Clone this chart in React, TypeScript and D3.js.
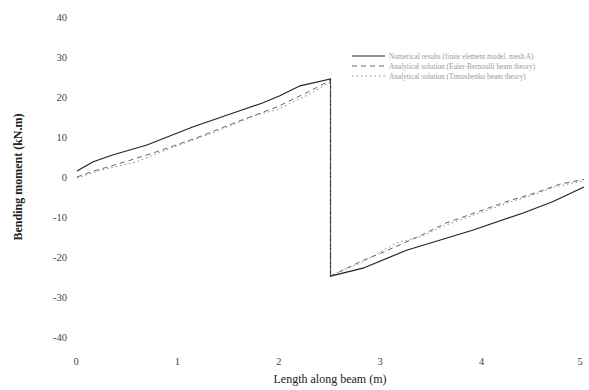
import React from "react";
import * as d3 from "d3";

// Bending moment along a simply supported beam with a mid-span couple
const seriesNames = [
  "Numerical results (finite element model, mesh A)",
  "Analytical solution (Euler-Bernoulli beam theory)",
  "Analytical solution (Timoshenko beam theory)",
];

const solidX = [0, 0.16, 0.35, 0.69, 1.14, 1.54, 1.83, 2.0, 2.2, 2.5, 2.5, 2.82, 3.25, 3.9, 4.4, 4.69, 5.0];
const solidY = [1.5, 3.8, 5.5, 8.0, 12.5, 16.0, 18.5, 20.3, 22.8, 24.5, -24.8, -22.8, -18.3, -13.3, -9.0, -6.2, -2.5];

const dashedX = [0, 0.13, 0.5, 0.75, 1.18, 1.6, 1.97, 2.3, 2.5, 2.5, 2.79, 3.03, 3.4, 3.64, 4.23, 4.53, 4.76, 5.0];
const dashedY = [0, 1.2, 4.0, 6.0, 9.8, 14.0, 17.5, 21.5, 24.2, -24.8, -21.2, -18.7, -14.5, -11.5, -6.2, -3.9, -1.8, -0.6];

const dottedX = [0, 0.23, 0.59, 0.92, 1.36, 1.77, 1.97, 2.3, 2.5, 2.5, 2.79, 3.15, 3.4, 3.64, 4.23, 4.53, 4.71, 5.0];
const dottedY = [-0.3, 1.7, 3.8, 7.2, 11.2, 15.5, 16.8, 20.8, 23.8, -24.6, -21.6, -16.5, -14.8, -12.0, -6.6, -4.2, -2.5, -0.9];

const xTicks = [0, 1, 2, 3, 4, 5];
const yTicks = [40, 30, 20, 10, 0, -10, -20, -30, -40];

const W = 589;
const H = 390;

export default function App() {
  const x = d3.scaleLinear().domain([0, 5]).range([77, 584]);
  const y = d3.scaleLinear().domain([-40, 40]).range([337, 17]);

  const line = d3
    .line<[number, number]>()
    .x((d) => x(d[0]))
    .y((d) => y(d[1]));

  const pts = (xs: number[], ys: number[]) => xs.map((v, i) => [v, ys[i]] as [number, number]);

  const series = [
    { d: pts(solidX, solidY), dash: undefined, stroke: "#222", width: 1.2 },
    { d: pts(dashedX, dashedY), dash: "5 4", stroke: "#555", width: 0.9 },
    { d: pts(dottedX, dottedY), dash: "1.5 3", stroke: "#777", width: 0.9 },
  ];

  const font = "'Liberation Serif', 'DejaVu Serif', serif";

  return (
    <svg
      width={W}
      height={H}
      style={{ position: "absolute", left: 0, top: 0, background: "#fff" }}
      fontFamily={font}
    >
      {series.map((s, i) => (
        <path
          key={i}
          d={line(s.d) ?? ""}
          fill="none"
          stroke={s.stroke}
          strokeWidth={s.width}
          strokeDasharray={s.dash}
        />
      ))}

      {yTicks.map((t) => (
        <text key={t} x={67} y={y(t) + 4} textAnchor="end" fontSize={10.5} fill="#444">
          {t}
        </text>
      ))}
      {xTicks.map((t) => (
        <text key={t} x={Math.min(x(t) - 1, 580)} y={365} textAnchor="middle" fontSize={10.5} fill="#444">
          {t}
        </text>
      ))}

      <text x={330} y={383} textAnchor="middle" fontSize={12} fill="#222">
        Length along beam (m)
      </text>
      <text
        transform={`translate(22,${y(0)}) rotate(-90)`}
        textAnchor="middle"
        fontSize={12}
        fontWeight="bold"
        fill="#222"
      >
        Bending moment (kN.m)
      </text>

      {series.map((s, i) => (
        <g key={i} transform={`translate(0,${56 + i * 10})`}>
          <line
            x1={352}
            x2={385}
            y1={0}
            y2={0}
            stroke={s.stroke}
            strokeWidth={s.width}
            strokeDasharray={s.dash}
          />
          <text x={389} y={2.5} fontSize={7.3} fill="#999">
            {seriesNames[i]}
          </text>
        </g>
      ))}
    </svg>
  );
}
